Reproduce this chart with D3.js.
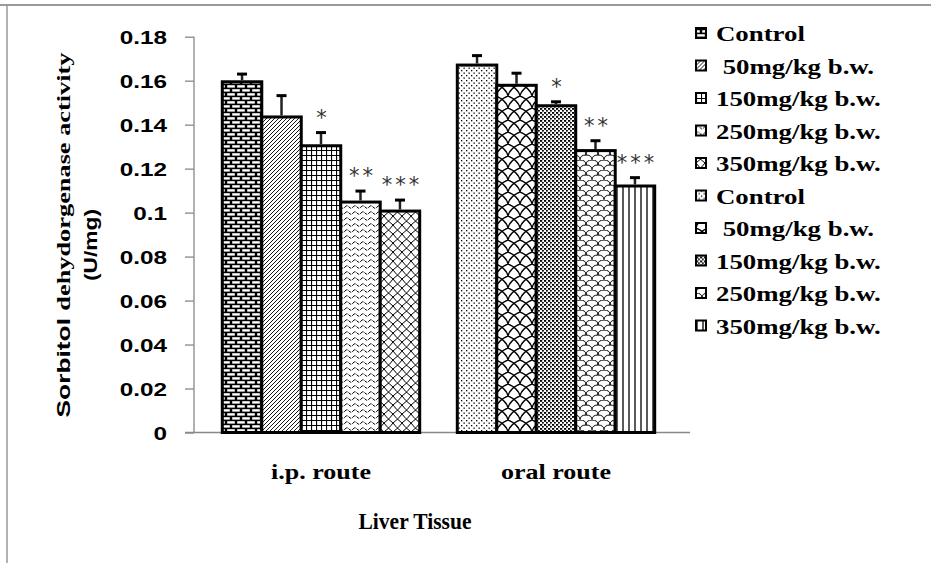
<!DOCTYPE html>
<html>
<head>
<meta charset="utf-8">
<script src="https://cdn.jsdelivr.net/npm/d3@7"></script>
<style>
  html, body { margin: 0; padding: 0; background: #fff; }
  svg { display: block; }
</style>
</head>
<body>
<svg id="chart" width="931" height="563"></svg>
<script>
// ---------------- DATA ----------------
const categories = ["i.p. route", "oral route"];
const doseLabels = ["Control", "50 mg/kg b.w.", "150 mg/kg b.w.", "250 mg/kg b.w.", "350 mg/kg b.w."];
const ipValues = [0.1595, 0.1435, 0.1304, 0.1048, 0.1007];
const ipErrors = [0.0035, 0.0097, 0.0060, 0.0050, 0.0050];
const oralValues = [0.1671, 0.1579, 0.1486, 0.1282, 0.1121];
const oralErrors = [0.0043, 0.0055, 0.0018, 0.0045, 0.0038];
const ipSignif = ["", "", "*", "**", "***"];
const oralSignif = ["", "", "*", "**", "***"];
const yTicks = [0, 0.02, 0.04, 0.06, 0.08, 0.1, 0.12, 0.14, 0.16, 0.18];
const legendLabels = ["Control", " 50mg/kg b.w.", "150mg/kg b.w.", "250mg/kg b.w.", "350mg/kg b.w.",
                      "Control", " 50mg/kg b.w.", "150mg/kg b.w.", "250mg/kg b.w.", "350mg/kg b.w."];
const yTitleLine1a = "Sorbitol ";
const yTitleLine1b = "dehydorgenase activity";
const yTitleLine2 = "(U/mg)";
const xTitle = "Liver Tissue";

// ---------------- SETUP ----------------
const svg = d3.select("#chart");
const defs = svg.append("defs");

function pat(id, w, h, bg, draw) {
  const p = defs.append("pattern").attr("id", id).attr("patternUnits", "userSpaceOnUse")
    .attr("width", w).attr("height", h);
  p.append("rect").attr("width", w).attr("height", h).attr("fill", bg);
  draw(p);
}
const patternIds = ["p0","p1","p2","p3","p4","p5","p6","p7","p8","p9"];
// ip Control: bricks
pat("p0", 10, 8, "#000", p => {
  p.append("rect").attr("x", 1.2).attr("y", 1.2).attr("width", 7.6).attr("height", 2.4).attr("fill", "#fff");
  p.append("rect").attr("x", -3.8).attr("y", 5.2).attr("width", 7.6).attr("height", 2.4).attr("fill", "#fff");
  p.append("rect").attr("x", 6.2).attr("y", 5.2).attr("width", 7.6).attr("height", 2.4).attr("fill", "#fff");
});
// ip 50: fine diagonal
pat("p1", 4, 4, "#fff", p => {
  p.append("path").attr("d", "M0,4 L4,0 M-1,1 L1,-1 M3,5 L5,3").attr("stroke", "#000").attr("stroke-width", 0.9);
});
// ip 150: grid
pat("p2", 5, 5, "#fff", p => {
  p.append("path").attr("d", "M0.5,0 V5 M0,0.5 H5").attr("stroke", "#000").attr("stroke-width", 1.2);
});
// ip 250: waves
pat("p3", 8, 6, "#fff", p => {
  p.append("path").attr("d", "M0,3 Q2,0.5 4,3 T8,3").attr("stroke", "#000").attr("stroke-width", 1).attr("fill", "none")
    .attr("stroke-dasharray", "3,1");
});
// ip 350: lattice
pat("p4", 9, 9, "#fff", p => {
  p.append("path").attr("d", "M0,0 Q3,4.5 9,9 M9,0 Q6,4.5 0,9").attr("stroke", "#000").attr("stroke-width", 1).attr("fill", "none");
});
// oral Control: sparse dots
pat("p5", 5, 5, "#fff", p => {
  p.append("rect").attr("x", 0).attr("y", 0).attr("width", 1.3).attr("height", 1.3).attr("fill", "#000");
  p.append("rect").attr("x", 2.5).attr("y", 2.5).attr("width", 1.3).attr("height", 1.3).attr("fill", "#000");
});
// oral 50: large scalloped lattice
pat("p6", 12, 12, "#fff", p => {
  p.append("path").attr("d", "M0,12 Q2,4 12,0 M0,0 Q10,4 12,12").attr("stroke", "#000").attr("stroke-width", 1.4).attr("fill", "none");
});
// oral 150: heavy dots
pat("p7", 4, 4, "#fff", p => {
  p.append("rect").attr("x", 0).attr("y", 0).attr("width", 2.2).attr("height", 1.8).attr("fill", "#000");
  p.append("rect").attr("x", 2).attr("y", 2).attr("width", 1.8).attr("height", 1.6).attr("fill", "#000");
});
// oral 250: scales
pat("p8", 12, 10, "#fff", p => {
  p.append("path").attr("d", "M0,10 Q0,5 6,5 Q12,5 12,10 M-6,5 Q-6,0 0,0 Q6,0 6,5 M6,5 Q6,0 12,0 Q18,0 18,5")
    .attr("stroke", "#000").attr("stroke-width", 1).attr("fill", "none");
});
// oral 350: vertical lines
pat("p9", 6, 4, "#fff", p => {
  p.append("path").attr("d", "M1,0 V4").attr("stroke", "#000").attr("stroke-width", 1.3);
});

// outer frame lines
svg.append("line").attr("x1", 0).attr("x2", 931).attr("y1", 5).attr("y2", 5).attr("stroke", "#999").attr("stroke-width", 2);
svg.append("line").attr("x1", 7).attr("x2", 7).attr("y1", 5).attr("y2", 563).attr("stroke", "#999").attr("stroke-width", 1.5);

// scales
const y = d3.scaleLinear().domain([0, 0.18]).range([432.5, 36.7]);
const x0 = d3.scaleBand().domain(categories).range([203.5, 673.5]).padding(0);
const groupW = x0.bandwidth() * 0.84;
const x1 = d3.scaleBand().domain(doseLabels).range([-groupW / 2, groupW / 2]).padding(0);

// y axis
const yAxis = d3.axisLeft(y).tickValues(yTicks).tickSize(9).tickFormat(d3.format("~g"));
const yg = svg.append("g").attr("transform", "translate(194,0)").call(yAxis);
yg.select(".domain").attr("stroke", "#888").attr("stroke-width", 1.3).attr("d", `M0,${y(0.18)}V${y(0)}`);
yg.selectAll(".tick line").attr("stroke", "#888").attr("stroke-width", 1.3);
yg.selectAll(".tick text").remove();
yg.selectAll(".tick").append("text")
  .attr("transform", "translate(-27,6.5) scale(1.35,1)")
  .attr("text-anchor", "end")
  .attr("fill", "#000")
  .style("font-family", "'Liberation Sans', Arial, sans-serif")
  .style("font-weight", "bold").style("font-size", "18px")
  .text(d => d3.format("~g")(d));

// baseline
svg.append("line").attr("x1", 185).attr("x2", 690).attr("y1", y(0)).attr("y2", y(0))
  .attr("stroke", "#888").attr("stroke-width", 1.3);

// bars
const seriesSets = [
  { cat: categories[0], values: ipValues, errors: ipErrors, sig: ipSignif, offset: 0 },
  { cat: categories[1], values: oralValues, errors: oralErrors, sig: oralSignif, offset: 5 }
];
seriesSets.forEach(s => {
  const cx = x0(s.cat) + x0.bandwidth() / 2;
  const g = svg.append("g").attr("transform", `translate(${cx},0)`);
  const data = doseLabels.map((d, i) => ({ dose: d, v: s.values[i], e: s.errors[i], sig: s.sig[i], pid: patternIds[s.offset + i] }));
  g.selectAll("rect.bar").data(data).join("rect").attr("class", "bar")
    .attr("x", d => x1(d.dose)).attr("width", x1.bandwidth())
    .attr("y", d => y(d.v)).attr("height", d => y(0) - y(d.v))
    .attr("fill", d => `url(#${d.pid})`).attr("stroke", "#000").attr("stroke-width", 3);
  g.selectAll("line.stem").data(data).join("line").attr("class", "stem")
    .attr("x1", d => x1(d.dose) + x1.bandwidth() / 2).attr("x2", d => x1(d.dose) + x1.bandwidth() / 2)
    .attr("y1", d => y(d.v) - 1.5).attr("y2", d => y(d.v + d.e))
    .attr("stroke", "#222").attr("stroke-width", 2.5);
  g.selectAll("line.cap").data(data).join("line").attr("class", "cap")
    .attr("x1", d => x1(d.dose) + x1.bandwidth() / 2 - 5).attr("x2", d => x1(d.dose) + x1.bandwidth() / 2 + 5)
    .attr("y1", d => y(d.v + d.e)).attr("y2", d => y(d.v + d.e))
    .attr("stroke", "#000").attr("stroke-width", 3);
  g.selectAll("text.sig").data(data.filter(d => d.sig)).join("text").attr("class", "sig")
    .attr("x", d => x1(d.dose) + x1.bandwidth() / 2 + 2)
    .attr("y", d => y(d.v + d.e) - 8)
    .attr("text-anchor", "middle")
    .attr("fill", "#333")
    .style("font-family", "'DejaVu Sans', sans-serif").style("font-size", "21px")
    .style("letter-spacing", "3px")
    .text(d => d.sig);
});

// category labels
const catWidths = [100, 110];
categories.forEach((c, i) => {
  svg.append("text")
    .attr("x", x0(c) + x0.bandwidth() / 2).attr("y", 479)
    .attr("text-anchor", "middle")
    .attr("textLength", catWidths[i]).attr("lengthAdjust", "spacingAndGlyphs")
    .style("font-family", "'Liberation Serif', 'Times New Roman', serif")
    .style("font-weight", "bold").style("font-size", "21px")
    .text(c);
});

// x title
svg.append("text").attr("x", 415).attr("y", 529).attr("text-anchor", "middle")
  .attr("textLength", 113).attr("lengthAdjust", "spacingAndGlyphs")
  .style("font-family", "'Liberation Serif', 'Times New Roman', serif")
  .style("font-weight", "bold").style("font-size", "23px")
  .text(xTitle);

// y title
const yt = svg.append("text").attr("transform", "translate(70,235) rotate(-90)")
  .attr("text-anchor", "middle")
  .attr("textLength", 365).attr("lengthAdjust", "spacingAndGlyphs")
  .style("font-weight", "bold").style("font-size", "19px");
yt.append("tspan").style("font-family", "'Liberation Sans', Arial, sans-serif").text(yTitleLine1a);
yt.append("tspan").style("font-family", "'Liberation Serif', 'Times New Roman', serif").text(yTitleLine1b);
svg.append("text").attr("transform", "translate(97,245) rotate(-90) scale(1.2,1)")
  .attr("text-anchor", "middle")
  .style("font-family", "'Liberation Sans', Arial, sans-serif")
  .style("font-weight", "bold").style("font-size", "19px")
  .text(yTitleLine2);

// legend
const legend = svg.append("g");
const legRows = legend.selectAll("g").data(legendLabels).join("g")
  .attr("transform", (d, i) => `translate(696,${33 + i * 32.5})`);
legRows.append("rect").attr("x", 0).attr("y", -5).attr("width", 10).attr("height", 10)
  .attr("fill", (d, i) => `url(#${patternIds[i]})`).attr("stroke", "#000").attr("stroke-width", 2);
legRows.append("text")
  .attr("transform", "translate(20,8) scale(1.22,1)")
  .attr("xml:space", "preserve")
  .style("white-space", "pre")
  .style("font-family", "'Liberation Serif', 'Times New Roman', serif")
  .style("font-weight", "bold").style("font-size", "22px")
  .text(d => d);
</script>
</body>
</html>
